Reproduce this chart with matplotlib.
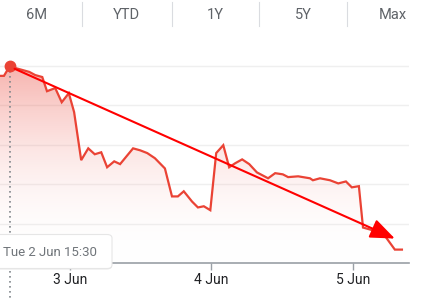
import matplotlib
matplotlib.use("Agg")
import matplotlib.pyplot as plt
import numpy as np
from matplotlib.colors import LinearSegmentedColormap
from matplotlib.patches import FancyBboxPatch
from matplotlib.lines import Line2D

plt.rcParams["font.family"] = ["Roboto", "DejaVu Sans"]

# hours since 2 Jun 00:00, price
hours = [12.1, 12.8, 13.8, 14.7, 15.9, 17.1, 18.1, 19.3, 20.1, 21.5,
         22.6, 23.8, 24.7, 25.9, 27.1, 28.2, 29.3, 30.3, 31.5, 32.5,
         34.7, 35.9, 37.1, 38.4, 40.1, 41.3, 42.3, 43.3, 44.7, 45.7,
         46.7, 47.8, 48.8, 50.0, 51.0, 52.0, 53.2, 54.4, 55.7, 57.6,
         58.8, 60.1, 61.0, 62.7, 64.7, 65.2, 66.4, 68.1, 69.5, 70.8,
         71.8, 73.0, 73.7, 74.9, 76.2, 77.6, 79.1, 80.3]
prices = [63.75, 63.75, 64.00, 63.95, 63.90, 63.85, 63.77, 63.72, 63.36, 63.44,
          63.08, 63.31, 62.83, 61.61, 61.91, 61.76, 61.81, 61.43, 61.58, 61.51,
          61.91, 61.86, 61.79, 61.66, 61.40, 60.69, 60.69, 60.82, 60.56, 60.41,
          60.44, 60.34, 61.79, 61.99, 61.43, 61.53, 61.63, 61.51, 61.30, 61.15,
          61.28, 61.25, 61.18, 61.20, 61.15, 61.10, 61.15, 61.10, 61.02, 61.07,
          60.92, 60.95, 59.90, 59.85, 59.78, 59.65, 59.34, 59.34]

tick_hours = [24, 48, 72]
tick_labels = ["3 Jun", "4 Jun", "5 Jun"]
grid_levels = [60, 61, 62, 63, 64]
tabs = ["6M", "YTD", "1Y", "5Y", "Max"]
hover_label = "Tue 2 Jun 15:30"
hover_hour, hover_price = 13.8, 64.00
trend_start = (14.6, 63.93)
trend_end = (79.1, 59.62)

W, H = 427, 299
fig = plt.figure(figsize=(W / 100, H / 100), dpi=100)
fig.patch.set_facecolor("white")

ax = fig.add_axes([0, (H - 263) / H, 409 / W, (263 - 40) / H])
ax.set_xlim(12.13, 81.5)
ax.set_ylim(59.0, 64.66)

line_red = "#ea4335"

# gradient fill under the line
cmap = LinearSegmentedColormap.from_list(
    "fade", [(1, 1, 1, 0), (0.92, 0.26, 0.21, 0.42)])
grad = np.linspace(0, 1, 256).reshape(-1, 1)
img = ax.imshow(grad, extent=[12.13, 81.5, 59.0, 64.1], origin="lower",
                cmap=cmap, aspect="auto", zorder=1, interpolation="bilinear")
poly = ax.fill_between(hours, prices, 59.0, color="none", lw=0)
img.set_clip_path(poly.get_paths()[0], transform=ax.transData)

ax.plot(hours, prices, color=line_red, lw=1.6, zorder=3, solid_joinstyle="miter")

# grid
ax.set_yticks(grid_levels)
ax.yaxis.grid(True, color="#efefef", lw=1)
ax.tick_params(axis="y", length=0, labelleft=False)
ax.set_axisbelow(True)

for s in ("top", "right", "left"):
    ax.spines[s].set_visible(False)
ax.spines["bottom"].set_color("#9aa0a6")
ax.spines["bottom"].set_linewidth(1.2)

ax.set_xticks(tick_hours)
ax.set_xticklabels(tick_labels)
ax.tick_params(axis="x", length=5, width=1, color="#9aa0a6", pad=2.5,
               labelsize=10, labelcolor="#202124")

# hover marker and dotted guide
ax.plot([hover_hour, hover_hour], [hover_price, 58.0], color="#80868b",
        lw=1.2, ls=(0, (1, 2)), zorder=2, clip_on=False)
ax.plot([hover_hour], [hover_price], "o", color=line_red, ms=7.5, zorder=5)

# trend arrow
ax.annotate("", xy=trend_end, xytext=trend_start,
            arrowprops=dict(arrowstyle="-|>,head_length=0.75,head_width=0.3",
                            mutation_scale=20, color="#ff0000", lw=1.5,
                            shrinkA=0, shrinkB=0),
            zorder=6)

# tooltip
shadow = FancyBboxPatch((-6 / W, (H - 269.5) / H), 118 / W, 34 / H,
                        boxstyle="round,pad=0,rounding_size=0.012",
                        transform=fig.transFigure, facecolor="#d8d8d8",
                        edgecolor="none", alpha=0.6, zorder=8)
box = FancyBboxPatch((-6 / W, (H - 268.5) / H), 118 / W, 34 / H,
                     boxstyle="round,pad=0,rounding_size=0.012",
                     transform=fig.transFigure, facecolor="white",
                     edgecolor="#e6e6e6", lw=0.8, zorder=9)
fig.patches.extend([shadow, box])
fig.text(3 / W, 1 - 252 / H, hover_label, ha="left", va="center",
         fontsize=9.5, color="#70757a", zorder=10)

# range tabs
tab_x = [37, 126, 215, 303, 393]
for x, t in zip(tab_x, tabs):
    fig.text(x / W, 1 - 15 / H, t, ha="center", va="center",
             fontsize=10.5, color="#5f6368")
for x in [82, 172, 259, 347]:
    fig.lines.append(Line2D([x / W, x / W], [1 - 2 / H, 1 - 26 / H],
                            transform=fig.transFigure, color="#dadce0", lw=0.8))

fig.savefig("out.png", dpi=100, facecolor="white")
